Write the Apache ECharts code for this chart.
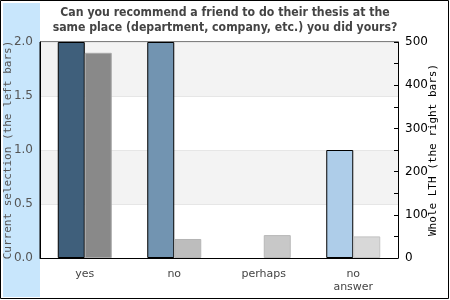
<!DOCTYPE html>
<html>
<head>
<meta charset="utf-8">
<script src="https://cdn.jsdelivr.net/npm/echarts@6/dist/echarts.min.js"></script>
<style>
  html, body { margin: 0; padding: 0; background: #fff; }
  #chart { width: 450px; height: 300px; }
</style>
</head>
<body>
<div id="chart"></div>
<script>
// Survey answers: thesis placement recommendation
const categories = ['yes', 'no', 'perhaps', 'no\nanswer'];
const currentSelection = [2, 2, 0, 1];      // left axis, left bars
const wholeLTH = [475, 44, 53, 50];         // right axis, right bars
const leftTickLabels = ['0.0', '0.5', '1.0', '1.5', '2.0'];
const rightTickLabels = ['0', '100', '200', '300', '400', '500'];

const currentColors = ['#3f5f7b', '#7294b1', '#aecde9', '#aecde9'];
const wholeColors = ['#898989', '#bdbdbd', '#c8c8c8', '#d8d8d8'];
const wholeBorders = ['#a8a8a8', '#b4b4b4', '#b8b8b8', '#c2c2c2'];

const chart = echarts.init(document.getElementById('chart'), null, { renderer: 'canvas' });

chart.setOption({
  animation: false,
  backgroundColor: '#ffffff',
  title: {
    text: 'Can you recommend a friend to do their thesis at the\nsame place (department, company, etc.) you did yours?',
    left: 'center',
    top: 0,
    textStyle: {
      fontFamily: 'DejaVu Sans Condensed',
      fontWeight: 'bold',
      fontSize: 12.2,
      lineHeight: 15,
      color: '#444444'
    }
  },
  graphic: [
    {
      type: 'rect', z: -100,
      shape: { x: 3, y: 3, width: 37, height: 294 },
      style: { fill: '#c8e6fc' }
    },
    {
      type: 'rect', z: 100,
      shape: { x: 0.5, y: 0.5, width: 448, height: 298 },
      style: { fill: 'none', stroke: '#000', lineWidth: 1 }
    }
  ],
  grid: {
    left: 40, right: 52, top: 42, bottom: 42,
    outerBoundsMode: 'none',
    containLabel: false,
    show: true,
    borderColor: '#000',
    borderWidth: 1,
    backgroundColor: 'transparent'
  },
  xAxis: {
    type: 'category',
    data: categories,
    axisLine: { show: true, lineStyle: { color: '#000', width: 1 } },
    axisTick: { show: false },
    axisLabel: {
      color: '#444',
      fontFamily: 'DejaVu Sans',
      fontSize: 11,
      lineHeight: 13,
      margin: 10
    }
  },
  yAxis: [
    {
      type: 'value',
      min: 0, max: 2, interval: 0.5,
      position: 'left',
      name: 'Current selection (the left bars)',
      nameLocation: 'middle',
      nameGap: 26,
      nameMoveOverlap: false,
      nameTextStyle: { fontFamily: 'DejaVu Sans Mono', fontSize: 11, color: '#555' },
      axisLine: { show: true, lineStyle: { color: '#000' } },
      axisTick: { show: false },
      axisLabel: {
        color: '#555',
        fontFamily: 'DejaVu Sans',
        fontSize: 12,
        margin: 7,
        formatter: v => leftTickLabels[Math.round(v / 0.5)]
      },
      splitLine: { show: true, lineStyle: { color: '#e6e6e6' } },
      splitArea: { show: true, areaStyle: { color: ['#ffffff', '#f3f3f3'] } }
    },
    {
      type: 'value',
      min: 0, max: 500, interval: 100,
      position: 'right',
      name: 'Whole LTH (the right bars)',
      nameLocation: 'middle',
      nameGap: 30,
      nameMoveOverlap: false,
      nameRotate: 90,
      nameTextStyle: { fontFamily: 'DejaVu Sans Mono', fontSize: 11, color: '#000' },
      axisLine: { show: true, lineStyle: { color: '#000' } },
      axisTick: { show: true, inside: true, length: 4, lineStyle: { color: '#000' } },
      minorTick: { show: true, splitNumber: 2, length: 4, lineStyle: { color: '#000' } },
      axisLabel: {
        color: '#000',
        fontFamily: 'DejaVu Sans',
        fontSize: 12,
        margin: 7,
        formatter: v => rightTickLabels[Math.round(v / 100)]
      },
      splitLine: { show: false },
      splitArea: { show: false }
    }
  ],
  series: [
    {
      name: 'Current selection',
      type: 'bar',
      yAxisIndex: 0,
      barWidth: 27,
      barGap: '0%',
      // an answer nobody in the selection gave draws no bar at all
      data: currentSelection.map((v, i) => ({
        value: v === 0 ? '-' : v,
        itemStyle: { color: currentColors[i], borderColor: '#000', borderWidth: 1 }
      }))
    },
    {
      name: 'Whole LTH',
      type: 'bar',
      yAxisIndex: 1,
      barWidth: 27,
      barGap: '0%',
      data: wholeLTH.map((v, i) => ({
        value: v,
        itemStyle: { color: wholeColors[i], borderColor: wholeBorders[i], borderWidth: 1 }
      }))
    }
  ]
});
</script>
</body>
</html>
